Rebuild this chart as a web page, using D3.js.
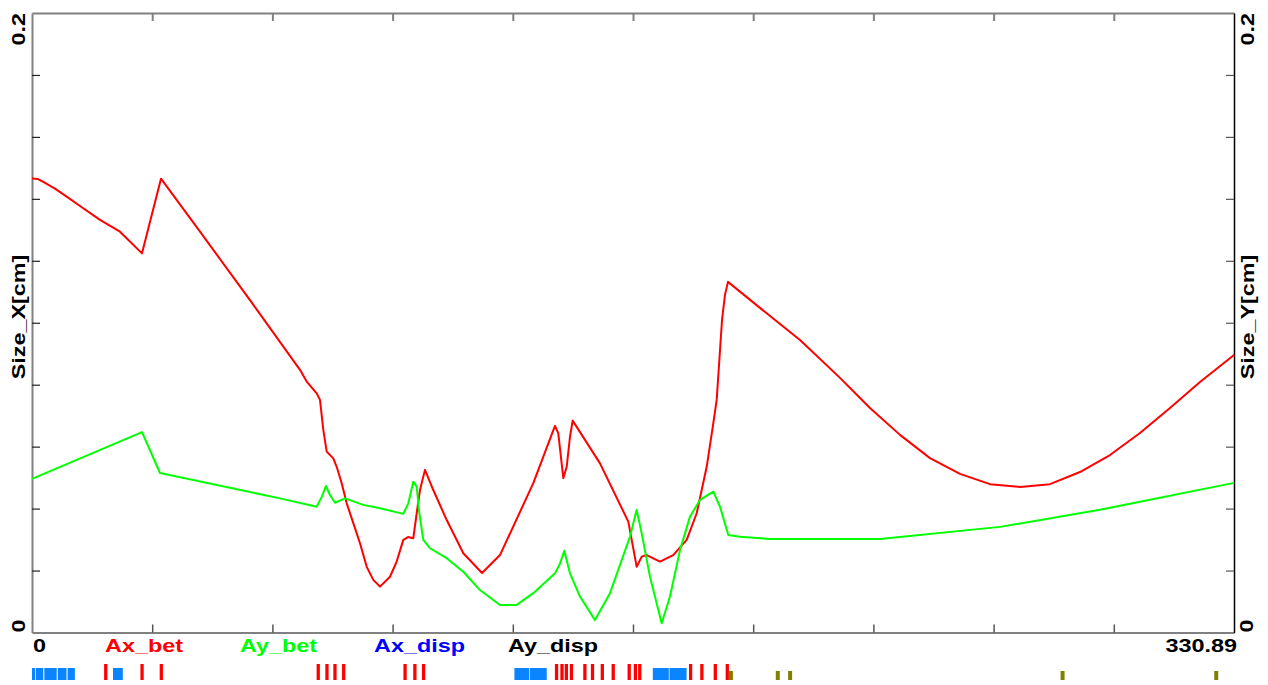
<!DOCTYPE html>
<html>
<head>
<meta charset="utf-8">
<script src="https://cdn.jsdelivr.net/npm/d3@7"></script>
<style>
  html, body { margin: 0; padding: 0; background: #fff; overflow: hidden; }
  text { font-family: "Liberation Sans", Arial, sans-serif; font-weight: bold; font-size: 18px; }
</style>
</head>
<body>
<svg id="chart" width="1268" height="685"></svg>
<script>
// ---- beam sizes along the line (s in m, size in cm) ----
const sMax = 330.89;

const redS = [0, 1.65, 3.11, 6.33, 9.55, 13.21, 18.72, 24.22, 30.28, 35.51, 46.25, 60.01, 73.78,
  75.62, 78.37, 79.28, 80.19, 81.13, 82.94, 83.88, 85.25, 86.63, 88.45, 90.29, 92.14, 93.95, 95.80,
  98.55, 100.39, 102.21, 103.5, 104.96, 105.90, 106.81, 108.18, 110.47, 114.16, 118.73, 123.88,
  128.83, 138.00, 143.97, 144.88, 146.26, 147.19, 148.10, 148.84, 156.36, 164.15, 165.09, 166.46,
  167.84, 169.21, 172.87, 176.53, 180.22, 182.98, 185.73, 187.55, 188.48, 189.40, 189.95, 190.77,
  191.59, 200.40, 211.41, 222.43, 230.68, 238.94, 247.20, 255.46, 263.72, 271.98, 280.23, 288.49,
  296.75, 305.01, 313.27, 321.53, 330.89];
const redV = [0.1466, 0.1464, 0.1455, 0.1433, 0.1407, 0.1377, 0.1332, 0.1294, 0.1224, 0.1465,
  0.1294, 0.1073, 0.0848, 0.0810, 0.0772, 0.0751, 0.0654, 0.0584, 0.0562, 0.0535, 0.0482, 0.0417,
  0.0353, 0.0288, 0.0212, 0.0170, 0.0148, 0.0180, 0.0229, 0.0299, 0.0308, 0.0304, 0.0385, 0.0460,
  0.0525, 0.0460, 0.0363, 0.0256, 0.0192, 0.0250, 0.0482, 0.0667, 0.0643, 0.0498, 0.0535, 0.0632,
  0.0684, 0.0546, 0.0358, 0.0299, 0.0212, 0.0245, 0.0250, 0.0229, 0.0250, 0.0299, 0.0385, 0.0535,
  0.0675, 0.0751, 0.0912, 0.1009, 0.1090, 0.1132, 0.1048, 0.0944, 0.0822, 0.0725, 0.0638, 0.0563,
  0.0512, 0.0479, 0.0470, 0.0479, 0.0518, 0.0573, 0.0644, 0.0725, 0.0809, 0.0896];

const greenS = [0, 30.28, 35.24, 68.27, 78.37, 79.75, 80.93, 82.03, 83.41, 86.16, 91.20, 95.80,
  102.21, 103.59, 104.96, 105.90, 106.62, 107.72, 109.56, 114.16, 118.73, 123.32, 128.83, 133.43,
  138.00, 143.97, 145.35, 146.53, 148.10, 150.85, 154.98, 159.11, 164.61, 166.46, 167.84, 170.12,
  173.34, 175.63, 178.38, 181.13, 183.89, 187.55, 189.40, 191.68, 194.90, 203.16, 233.44, 266.47,
  294.00, 330.89];
const greenV = [0.0496, 0.0647, 0.0515, 0.0433, 0.0406, 0.0438, 0.0473, 0.0444, 0.0419, 0.0433,
  0.0412, 0.0401, 0.0383, 0.0417, 0.0487, 0.0471, 0.0385, 0.0299, 0.0272, 0.0240, 0.0196, 0.0137,
  0.0089, 0.0089, 0.0127, 0.0191, 0.0223, 0.0264, 0.0191, 0.0116, 0.0040, 0.0127, 0.0309, 0.0396,
  0.0320, 0.0180, 0.0030, 0.0116, 0.0266, 0.0374, 0.0428, 0.0455, 0.0406, 0.0315, 0.0309, 0.0302,
  0.0302, 0.0341, 0.0396, 0.0483];

// ---- lattice elements (s positions in m) ----
const quadStart = [0.0, 1.1, 3.4, 7.1, 9.8, 22.3, 132.8, 137.1, 170.9, 175.5];
const quadEnd   = [0.9, 3.1, 6.8, 9.5, 11.8, 25.0, 136.9, 141.7, 175.3, 180.2];
const bendCenter = [20.3, 30.3, 35.6, 78.8, 81.2, 83.4, 85.8, 102.7, 105.4, 107.8, 144.4, 145.9,
  147.1, 148.5, 152.2, 154.3, 157.0, 160.0, 164.4, 166.1, 167.3, 181.3, 184.4, 188.1, 191.4];
const bendLength = 0.9;
const monitorCenter = [192.4, 205.3, 208.7, 283.7, 326.0];
const monitorLength = 1.1;

// ---- axis labels ----
const legendNames = ["Ax_bet", "Ay_bet", "Ax_disp", "Ay_disp"];
const legendColors = ["#ff0000", "#00ff00", "#0000ff", "#000000"];
const yTickLabels = ["0", "0.2"];
const xEndLabels = ["0", "330.89"];

// ---- layout ----
const svg = d3.select("#chart");
const L = 32, R = 1234, T = 13, B = 632.5;
const x = d3.scaleLinear().domain([0, sMax]).range([L, R]);
const y = d3.scaleLinear().domain([0, 0.2]).range([B, T]);

const xTicks = d3.range(1, 10).map(i => i * sMax / 10);
const yTicks = d3.range(1, 10).map(i => i * 0.02);

function styleAxis(g, domainColor, domainWidth, tickColor, tickWidth) {
  g.select(".domain").attr("stroke", domainColor).attr("stroke-width", domainWidth);
  g.selectAll(".tick line").attr("stroke", tickColor).attr("stroke-width", tickWidth);
  g.selectAll(".tick text").remove();
}

svg.append("g").attr("transform", `translate(0,${B})`)
  .call(d3.axisTop(x).tickValues(xTicks).tickSize(8).tickSizeOuter(0).tickFormat(""))
  .call(g => styleAxis(g, "#808080", 2, "#555", 1.5));
svg.append("g").attr("transform", `translate(0,${T})`)
  .call(d3.axisBottom(x).tickValues(xTicks).tickSize(8).tickSizeOuter(0).tickFormat(""))
  .call(g => styleAxis(g, "#808080", 2, "#808080", 2));
svg.append("g").attr("transform", `translate(${L},0)`)
  .call(d3.axisRight(y).tickValues(yTicks).tickSize(8).tickSizeOuter(0).tickFormat(""))
  .call(g => styleAxis(g, "#808080", 2, "#222", 1.2));
svg.append("g").attr("transform", `translate(${R},0)`)
  .call(d3.axisLeft(y).tickValues(yTicks).tickSize(8).tickSizeOuter(0).tickFormat(""))
  .call(g => styleAxis(g, "#000", 1.5, "#555", 1.2));

// ---- curves ----
const line = d3.line().x(d => x(d[0])).y(d => y(d[1]));
svg.append("path").datum(redS.map((s, i) => [s, redV[i]]))
  .attr("d", line).attr("fill", "none").attr("stroke", "#ff0000").attr("stroke-width", 2)
  .attr("stroke-linejoin", "round");
svg.append("path").datum(greenS.map((s, i) => [s, greenV[i]]))
  .attr("d", line).attr("fill", "none").attr("stroke", "#00ff00").attr("stroke-width", 2)
  .attr("stroke-linejoin", "round");

// ---- text (wide bold face) ----
function label(txt, px, py, anchor, color, rotate) {
  svg.append("text")
    .attr("transform", `translate(${px},${py})` + (rotate ? " rotate(-90)" : "") + " scale(1.3,1)")
    .attr("text-anchor", anchor)
    .attr("fill", color)
    .text(txt);
}
// left axis
label(yTickLabels[1], 25, y(0.2), "end", "#000", true);
label(yTickLabels[0], 25, y(0), "start", "#000", true);
label("Size_X[cm]", 25, 317, "middle", "#000", true);
// right axis
label(yTickLabels[1], 1254, y(0.2), "end", "#000", true);
label(yTickLabels[0], 1253, y(0), "start", "#000", true);
label("Size_Y[cm]", 1254, 317, "middle", "#000", true);
// bottom labels
label(xEndLabels[0], 33, 652, "start", "#000", false);
label(xEndLabels[1], 1237, 652, "end", "#000", false);
const legendX = [105, 240, 374, 508];
legendNames.forEach((n, i) => label(n, legendX[i], 652, "start", legendColors[i], false));

// ---- lattice strip ----
const strip = svg.append("g");
strip.selectAll("rect.quad").data(quadStart).join("rect").attr("class", "quad")
  .attr("x", (d) => x(d))
  .attr("width", (d, i) => Math.max(1, x(quadEnd[i]) - x(d)))
  .attr("y", 668).attr("height", 12).attr("fill", "#0a84ff");
strip.selectAll("rect.bend").data(bendCenter).join("rect").attr("class", "bend")
  .attr("x", d => x(d - bendLength / 2))
  .attr("width", d => x(d + bendLength / 2) - x(d - bendLength / 2))
  .attr("y", 664).attr("height", 16).attr("fill", "#ff0000");
strip.selectAll("rect.mon").data(monitorCenter).join("rect").attr("class", "mon")
  .attr("x", d => x(d - monitorLength / 2))
  .attr("width", d => x(d + monitorLength / 2) - x(d - monitorLength / 2))
  .attr("y", 671).attr("height", 9).attr("fill", "#808000");
</script>
</body>
</html>
